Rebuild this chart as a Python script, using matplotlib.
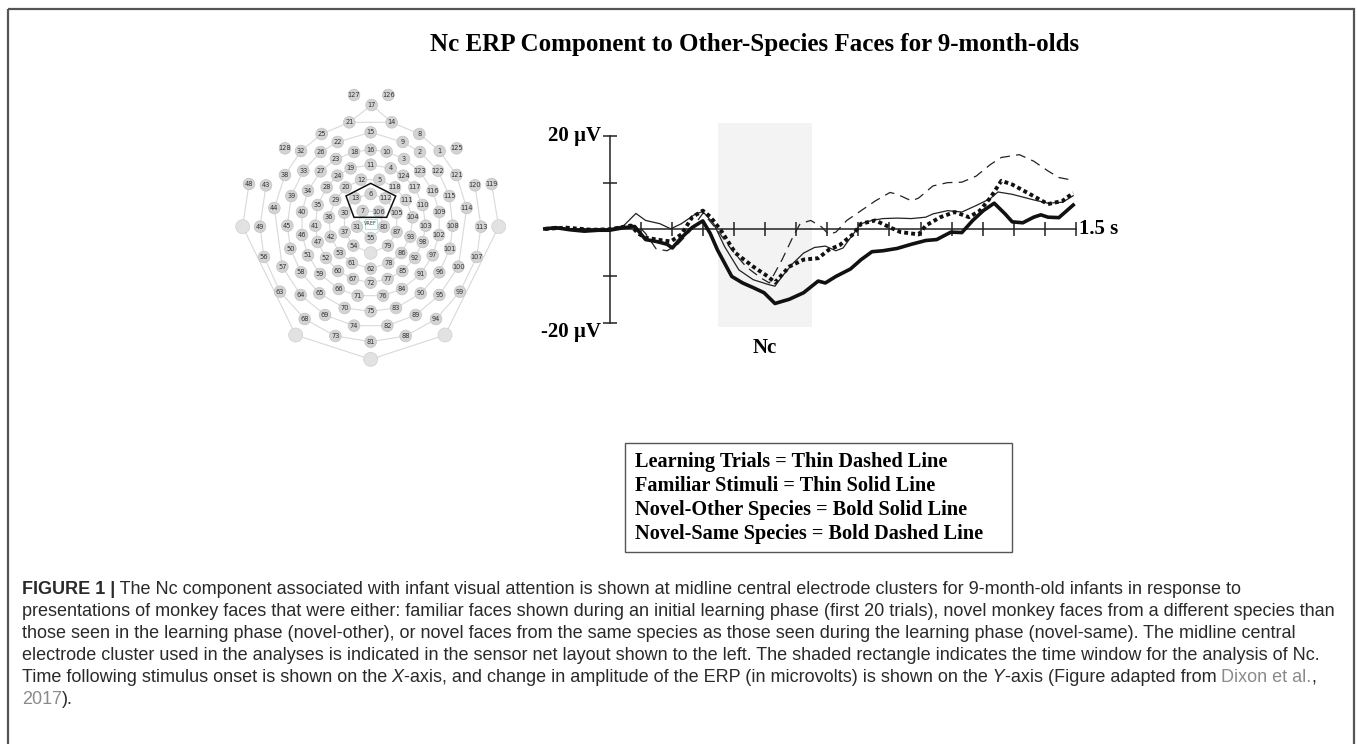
import numpy as np
import matplotlib
matplotlib.use("Agg")
import matplotlib.pyplot as plt
from matplotlib.patches import Rectangle, Circle, Polygon

# ---------------- data ----------------
TITLE = "Nc ERP Component to Other-Species Faces for 9-month-olds"

# ERP waveforms: time (s) / amplitude (microvolts)
learn_t = [-0.208, -0.162, -0.116, -0.058, 0.0, 0.058, 0.092, 0.116, 0.150, 0.185, 0.220, 0.254, 0.301,
           0.347, 0.393, 0.439, 0.486, 0.514, 0.555, 0.590, 0.613, 0.647, 0.682, 0.705, 0.728, 0.763,
           0.809, 0.855, 0.902, 0.925, 0.971, 0.994, 1.040, 1.087, 1.133, 1.179, 1.225, 1.260, 1.318,
           1.364, 1.410, 1.445, 1.491]
learn_v = [-0.2, 0.35, 0.1, 0.1, -0.1, 0.5, 0.8, -0.9, -4.2, -4.6, -3.2, -0.8, 3.5,
           -0.2, -4.4, -8.0, -10.4, -11.5, -6.5, -1.6, 1.2, 1.9, 0.5, -1.1, -0.6, 1.9,
           4.0, 6.1, 7.9, 7.5, 6.1, 6.7, 9.3, 10.0, 10.1, 11.4, 13.9, 15.4, 16.0,
           14.6, 12.5, 11.1, 10.5]

famil_t = [-0.208, -0.116, 0.0, 0.046, 0.085, 0.116, 0.162, 0.197, 0.231, 0.277, 0.300, 0.335, 0.370,
           0.416, 0.462, 0.509, 0.532, 0.555, 0.590, 0.624, 0.659, 0.694, 0.728, 0.751, 0.775, 0.809,
           0.844, 0.879, 0.925, 0.971, 1.017, 1.040, 1.087, 1.133, 1.179, 1.225, 1.249, 1.295, 1.364,
           1.410, 1.457, 1.491]
famil_v = [0.1, 0.0, 0.1, 0.8, 3.4, 1.9, 1.2, 0.1, 1.2, 3.3, 3.8, 1.2, -3.7,
           -8.7, -10.8, -11.8, -12.2, -10.1, -7.3, -5.1, -3.9, -3.6, -4.6, -4.0, -1.8, 1.2,
           1.9, 2.3, 2.4, 2.3, 2.6, 3.3, 4.0, 3.7, 5.1, 6.6, 8.0, 7.5, 6.3,
           5.6, 5.8, 7.2]

other_t = [-0.208, -0.173, -0.127, -0.081, -0.035, 0.0, 0.046, 0.081, 0.116, 0.150, 0.185, 0.202, 0.231,
           0.266, 0.300, 0.324, 0.347, 0.393, 0.428, 0.462, 0.497, 0.532, 0.578, 0.624, 0.671, 0.694,
           0.728, 0.775, 0.809, 0.844, 0.879, 0.925, 0.971, 1.017, 1.052, 1.098, 1.133, 1.168, 1.202,
           1.237, 1.272, 1.295, 1.329, 1.364, 1.387, 1.410, 1.445, 1.491]
other_v = [0.1, 0.35, -0.1, -0.4, -0.2, -0.2, 0.35, 0.6, -2.2, -2.6, -3.2, -4.0, -1.8,
           0.4, 1.8, -0.9, -4.4, -10.1, -11.5, -12.5, -13.6, -15.9, -15.0, -13.6, -11.1, -11.5,
           -10.1, -8.5, -6.5, -4.8, -4.6, -4.1, -3.2, -2.4, -2.2, -0.6, -0.7, 1.9, 4.0,
           5.6, 3.3, 1.6, 1.4, 2.6, 3.1, 2.6, 2.5, 5.2]

same_t = [-0.208, -0.139, -0.058, 0.0, 0.069, 0.092, 0.116, 0.162, 0.197, 0.231, 0.266, 0.300, 0.324,
          0.358, 0.405, 0.462, 0.509, 0.532, 0.578, 0.624, 0.671, 0.705, 0.740, 0.786, 0.809, 0.855,
          0.902, 0.936, 0.971, 0.994, 1.017, 1.064, 1.110, 1.156, 1.191, 1.225, 1.260, 1.295, 1.353,
          1.410, 1.457, 1.491]
same_v = [0.1, 0.35, -0.1, 0.0, 0.8, -0.9, -1.8, -2.3, -2.6, -1.1, 2.6, 4.0, 2.7,
          -0.2, -5.1, -8.0, -10.1, -11.4, -8.0, -6.5, -6.2, -4.4, -3.4, -0.9, 1.2, 1.9,
          0.4, -0.6, -0.9, -1.1, 0.8, 2.6, 3.7, 2.6, 4.0, 6.8, 10.4, 9.6, 7.5,
          5.4, 6.1, 7.8]

NC_WINDOW = (0.35, 0.65)
XTICKS = [0.1, 0.2, 0.3, 0.4, 0.5, 0.6, 0.7, 0.8, 0.9, 1.0, 1.1, 1.2, 1.3, 1.4, 1.5]
YTICKS = [-20, -10, 10, 20]

LEGEND_LINES = ["Learning Trials = Thin Dashed Line",
                "Familiar Stimuli = Thin Solid Line",
                "Novel-Other Species = Bold Solid Line",
                "Novel-Same Species = Bold Dashed Line"]

# sensor net layout (positions in map units, y down)
elec_lab = ['127', '126', '17', '21', '14', '25', '15', '8', '22', '9', '128', '32', '26', '18', '16', '10',
            '2', '1', '125', '23', '3', '19', '11', '4', '38', '33', '27', '24', '124', '123', '122', '121',
            '12', '5', '48', '43', '28', '20', '118', '117', '120', '119', '39', '34', '13', '6', '112', '111',
            '116', '115', '44', '35', '29', '114', '40', '36', '30', '7', '106', '105', '110', '104', '109',
            '49', '45', '41', '31', '80', '103', '108', '113', '46', '42', '37', '55', '87', '93', '102',
            '47', '98', '50', '54', '79', '101', '56', '51', '52', '53', '86', '92', '97', '107', '57', '61',
            '78', '100', '58', '59', '60', '62', '85', '91', '96', '67', '77', '72', '63', '64', '65', '66',
            '84', '90', '95', '99', '71', '76', '70', '75', '83', '69', '89', '68', '94', '74', '82', '73',
            '88', '81']
elec_x = [372, 475, 425, 358, 485, 275, 422, 568, 323, 518, 165, 213, 272, 372, 422, 470,
          570, 629, 680, 318, 522, 362, 422, 482, 165, 220, 272, 322, 520, 570, 624, 679,
          393, 448, 57, 108, 290, 347, 495, 553, 735, 785, 184, 234, 375, 422, 466, 528,
          608, 658, 133, 263, 316, 710, 216, 297, 343, 398, 447, 500, 578, 548, 628,
          90, 172, 256, 381, 462, 587, 668, 753, 216, 302, 344, 422, 500, 541, 627,
          263, 578, 181, 370, 474, 660, 102, 234, 288, 329, 514, 555, 608, 740, 157, 366,
          475, 685, 213, 270, 324, 422, 517, 572, 628, 369, 473, 422, 150, 212, 268, 326,
          516, 572, 628, 690, 383, 459, 344, 422, 498, 285, 557, 224, 618, 372, 472, 316,
          527, 422]
elec_y = [45, 45, 75, 127, 127, 162, 157, 162, 186, 186, 205, 213, 216, 216, 209, 215,
          216, 213, 205, 237, 237, 265, 254, 265, 285, 272, 274, 287, 287, 274, 272, 285,
          299, 299, 312, 316, 322, 322, 322, 322, 316, 312, 348, 332, 355, 342, 355, 360,
          332, 348, 384, 375, 360, 384, 396, 412, 398, 393, 395, 398, 375, 412, 396,
          440, 437, 437, 440, 440, 437, 437, 440, 465, 470, 456, 474, 456, 470, 465,
          486, 486, 506, 497, 497, 506, 531, 526, 534, 519, 519, 534, 526, 531, 560, 549,
          549, 560, 577, 582, 573, 566, 573, 582, 577, 597, 597, 608, 635, 645, 640, 627,
          627, 640, 645, 635, 647, 647, 684, 694, 684, 705, 705, 717, 717, 737, 737, 768,
          768, 785]
big_lab = ['L', 'R', 'BL', 'BR', 'B', 'C']
big_x = [38, 806, 197, 645, 422, 422]
big_y = [440, 440, 765, 765, 838, 519]

rings_closed = [
    ['7', '106', '80', '55', '31'],
    ['6', '112', '105', '87', '79', 'C', '54', '37', '30', '13'],
    ['12', '5', '118', '111', '104', '93', '86', '78', '62', '61', '53', '42', '36', '29', '20'],
    ['11', '4', '124', '117', '110', '103', '98', '92', '85', '77', '72', '67', '60', '52', '47', '41',
     '35', '28', '24', '19'],
    ['16', '10', '3', '123', '116', '109', '102', '97', '91', '84', '76', '71', '66', '59', '51', '46',
     '40', '34', '27', '23', '18'],
    ['15', '9', '2', '122', '115', '108', '101', '96', '90', '83', '75', '70', '65', '58', '50', '45',
     '39', '33', '26', '22'],
    ['14', '8', '1', '121', '114', '100', '95', '89', '82', '74', '69', '64', '57', '44', '38', '32',
     '25', '21'],
]
chains_open = [
    ['43', '49', '56', '63', '68', '73', '81', '88', '94', '99', '107', '113', '120'],
    ['21', '17', '14'],
    ['48', 'L', 'BL', 'B', 'BR', 'R', '119'],
]
cluster_x = [422, 497, 470, 372, 348]
cluster_y = [310, 348, 412, 412, 348]

CAPTION = [
    [("FIGURE 1 |", "bold"), (" The Nc component associated with infant visual attention is shown at midline central "
                              "electrode clusters for 9-month-old infants in response to", "n")],
    [("presentations of monkey faces that were either: familiar faces shown during an initial learning phase "
      "(first 20 trials), novel monkey faces from a different species than", "n")],
    [("those seen in the learning phase (novel-other), or novel faces from the same species as those seen "
      "during the learning phase (novel-same). The midline central", "n")],
    [("electrode cluster used in the analyses is indicated in the sensor net layout shown to the left. "
      "The shaded rectangle indicates the time window for the analysis of Nc.", "n")],
    [("Time following stimulus onset is shown on the", "n"), (" X", "it"),
     ("-axis, and change in amplitude of the ERP (in microvolts) is shown on the", "n"), (" Y", "it"),
     ("-axis (Figure adapted from", "n"), (" Dixon et al.", "link"), (",", "n")],
    [("2017", "link"), (").", "n")],
]

# ---------------- figure ----------------
W, H = 1357, 744
fig = plt.figure(figsize=(W / 100, H / 100), dpi=100)


def px_axes(x0, y0, w, h):
    a = fig.add_axes([x0 / W, 1 - (y0 + h) / H, w / W, h / H])
    a.set_facecolor('none')
    return a


bg = px_axes(0, 0, W, H)
bg.set_xlim(0, W)
bg.set_ylim(H, 0)
bg.axis('off')

# frame
bg.add_patch(Rectangle((8, 9), 1346, 745, fill=False, ec='#555555', lw=1.6))

serif = 'Liberation Serif'
bg.text(755, 44, TITLE, ha='center', va='center', fontfamily=serif, fontweight='bold', fontsize=18)

# legend box
bg.add_patch(Rectangle((625, 443), 387, 109, fill=False, ec='#555555', lw=1.0))
for i, s in enumerate(LEGEND_LINES):
    bg.text(635, 462 + i * 24, s, ha='left', va='center', fontfamily=serif, fontweight='bold', fontsize=14.6)

# caption
renderer = fig.canvas.get_renderer()
styles = {
    "n": dict(color='#2a2a2a'),
    "bold": dict(color='#2a2a2a', fontweight='bold'),
    "it": dict(color='#2a2a2a', fontstyle='italic'),
    "link": dict(color='#8a8a8a'),
}
cap_y = [589, 611, 633, 656, 678, 700]
for line, y in zip(CAPTION, cap_y):
    x = 22
    for s, st in line:
        t = bg.text(x, y, s, ha='left', va='center', fontfamily='Liberation Sans', fontsize=13, **styles[st])
        x += t.get_window_extent(renderer).width

# ---------------- sensor net ----------------
mp = px_axes(230, 80, 280, 290)
mp.set_xlim(0, 840)
mp.set_ylim(870, 0)
mp.axis('off')
pos = {l: (x, y) for l, x, y in zip(elec_lab, elec_x, elec_y)}
pos.update({l: (x, y) for l, x, y in zip(big_lab, big_x, big_y)})
for ring in rings_closed:
    pts = ring + [ring[0]]
    mp.plot([pos[p][0] for p in pts], [pos[p][1] for p in pts], color='#d9d9d9', lw=0.8, zorder=1)
for ch in chains_open:
    mp.plot([pos[p][0] for p in ch], [pos[p][1] for p in ch], color='#d9d9d9', lw=0.8, zorder=1)
for l, x, y in zip(big_lab, big_x, big_y):
    r = 19 if l == 'C' else 21
    mp.add_patch(Circle((x, y), r, fc='#e2e2e2', ec='#d0d0d0', lw=0.5, zorder=2))
for l, x, y in zip(elec_lab, elec_x, elec_y):
    mp.add_patch(Circle((x, y), 17.5, fc='#d3d3d3', ec='#c2c2c2', lw=0.5, zorder=2))
    mp.text(x, y, l, ha='center', va='center', fontsize=4.8, color='#333333', zorder=3)
mp.add_patch(Rectangle((404, 418), 36, 28, fill=False, ec='#9fd9dc', lw=0.6, zorder=3))
mp.text(422, 431, 'VREF', ha='center', va='center', fontsize=3.6, color='#3c3c3c', zorder=4)
mp.add_patch(Polygon(list(zip(cluster_x, cluster_y)), closed=True, fill=False, ec='#111111', lw=1.1, zorder=4))

# ---------------- ERP plot ----------------
T0_PX, T15_PX = 609.5, 1076
Y20_PX, YM20_PX = 136, 322.6
pxs = (T15_PX - T0_PX) / 1.5
pxv = (YM20_PX - Y20_PX) / 40.0
zero_px = (Y20_PX + YM20_PX) / 2
xlo, xhi = -0.22, 1.62
ylo, yhi = -22.0, 24.0
ax = px_axes(T0_PX + xlo * pxs, zero_px - yhi * pxv, (xhi - xlo) * pxs, (yhi - ylo) * pxv)
ax.set_xlim(xlo, xhi)
ax.set_ylim(ylo, yhi)

ax.add_patch(Rectangle((NC_WINDOW[0], -20.9), NC_WINDOW[1] - NC_WINDOW[0], 43.6, fc='#f3f3f3', ec='none', zorder=0))

for s in ['top', 'right']:
    ax.spines[s].set_visible(False)
ax.spines['left'].set_position(('data', 0))
ax.spines['left'].set_bounds(-20, 20)
ax.spines['bottom'].set_position(('data', 0))
ax.spines['bottom'].set_bounds(-0.21, 1.5)
for s in ['left', 'bottom']:
    ax.spines[s].set_linewidth(1.1)
    ax.spines[s].set_color('#222222')
ax.set_xticks(XTICKS)
ax.set_yticks(YTICKS)
ax.set_xticklabels([])
ax.set_yticklabels([])
ax.tick_params(direction='inout', length=10, width=1.1, colors='#222222')

ax.plot(learn_t, learn_v, color='#222222', lw=0.9, dashes=(8, 5), zorder=3)
ax.plot(famil_t, famil_v, color='#222222', lw=0.9, zorder=3)
ax.plot(other_t, other_v, color='#111111', lw=2.6, zorder=3)
ax.plot(same_t, same_v, color='#111111', lw=2.8, dashes=(1.0, 0.8), zorder=3)

lab = dict(fontfamily=serif, fontweight='bold', fontsize=15)
ax.annotate('20 µV', xy=(0, 20), xytext=(-6, 0), textcoords='offset points', ha='right', va='center', **lab)
ax.annotate('-20 µV', xy=(0, -20), xytext=(-6, -7), textcoords='offset points', ha='right', va='center', **lab)
ax.annotate('1.5 s', xy=(1.5, 0), xytext=(2, 0), textcoords='offset points', ha='left', va='center', **lab)
ax.text(sum(NC_WINDOW) / 2, -25.5, 'Nc', ha='center', va='center', **lab)

fig.savefig('out.png', dpi=100)
